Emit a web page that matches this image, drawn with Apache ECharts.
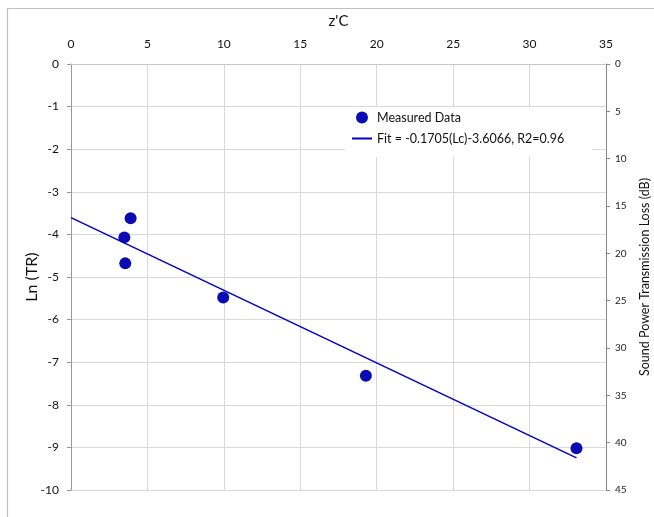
<!DOCTYPE html>
<html><head><meta charset="utf-8">
<script src="https://cdn.jsdelivr.net/npm/echarts@6/dist/echarts.min.js"></script>
<style>html,body{margin:0;padding:0;background:#fff}#c{width:654px;height:517px}</style>
</head><body><div id="c"></div>
<script>
const xTicks = [0, 5, 10, 15, 20, 25, 30, 35];
const measuredX = [3.90, 3.49, 3.55, 9.96, 19.29, 33.07];
const measuredY = [-3.62, -4.07, -4.68, -5.48, -7.32, -9.02];
const fitX = [0, 33.07];
const fitY = [-3.6066, -9.245];
const fitLabel = 'Fit = -0.1705(Lc)-3.6066, R2=0.96';
const measuredLabel = 'Measured Data';

const FONT = 'Lato, "Open Sans", sans-serif';
const chart = echarts.init(document.getElementById('c'));
chart.setOption({
  animation: false,
  backgroundColor: '#fff',
  textStyle: { fontFamily: FONT },
  graphic: [{
    type: 'rect', shape: { x: 7.5, y: 8.5, width: 700, height: 600 },
    style: { fill: 'none', stroke: '#c0c0c0', lineWidth: 1.2 }, z: -10
  }],
  grid: { left: 71, right: 48, top: 64, bottom: 27, containLabel: false, outerBoundsMode: 'none' },
  legend: {
    orient: 'vertical', left: 345, top: 107,
    backgroundColor: '#fff', padding: [4, 28, 12, 6],
    itemWidth: 20, itemHeight: 12, itemGap: 8,
    textStyle: { fontFamily: FONT, fontSize: 12.5, color: '#111' },
    data: [
      { name: measuredLabel, icon: 'circle' },
      { name: fitLabel, itemStyle: { opacity: 0 } }
    ]
  },
  xAxis: {
    type: 'value', position: 'top', min: 0, max: 35, interval: 5,
    name: "z'C", nameLocation: 'middle', nameGap: 35, nameMoveOverlap: false,
    nameTextStyle: { fontFamily: FONT, fontSize: 15, color: '#111' },
    axisLine: { show: true, onZero: false, lineStyle: { color: '#c8c8c8' } },
    axisTick: { show: false },
    axisLabel: { fontFamily: FONT, fontSize: 12, color: '#111', margin: 14 },
    splitLine: { show: true, lineStyle: { color: '#d9d9d9', width: 1 } }
  },
  yAxis: [{
    type: 'value', position: 'left', min: -10, max: 0, interval: 1,
    name: 'Ln (TR)', nameLocation: 'middle', nameGap: 31, nameRotate: 90, nameMoveOverlap: false,
    nameTextStyle: { fontFamily: FONT, fontSize: 16, color: '#111' },
    axisLine: { show: true, onZero: false, lineStyle: { color: '#999' } },
    axisTick: { show: true, length: 4, lineStyle: { color: '#999' } },
    axisLabel: { fontFamily: FONT, fontSize: 12, color: '#111', margin: 12 },
    splitLine: { show: true, lineStyle: { color: '#d9d9d9', width: 1 } }
  }, {
    type: 'value', position: 'right', min: 0, max: 45, interval: 5, inverse: true,
    name: 'Sound Power Transmission Loss (dB)', nameLocation: 'middle', nameGap: 32, nameRotate: 90,
    nameTextStyle: { fontFamily: FONT, fontSize: 12.5, color: '#111' },
    axisLine: { show: true, onZero: false, lineStyle: { color: '#888' } },
    axisTick: { show: true, length: 4, lineStyle: { color: '#888' } },
    axisLabel: { fontFamily: FONT, fontSize: 10, color: '#222', margin: 9 },
    splitLine: { show: false }
  }],
  series: [{
    name: measuredLabel, type: 'scatter', symbol: 'circle', symbolSize: 12,
    itemStyle: { color: '#0b0bb4', opacity: 1 },
    data: measuredX.map((x, i) => [x, measuredY[i]]), z: 3
  }, {
    name: fitLabel, type: 'line', symbol: 'none', showSymbol: false,
    lineStyle: { color: '#0000c8', width: 1.5 }, itemStyle: { color: '#0000c8' },
    data: fitX.map((x, i) => [x, fitY[i]]), z: 2
  }]
});
</script></body></html>
